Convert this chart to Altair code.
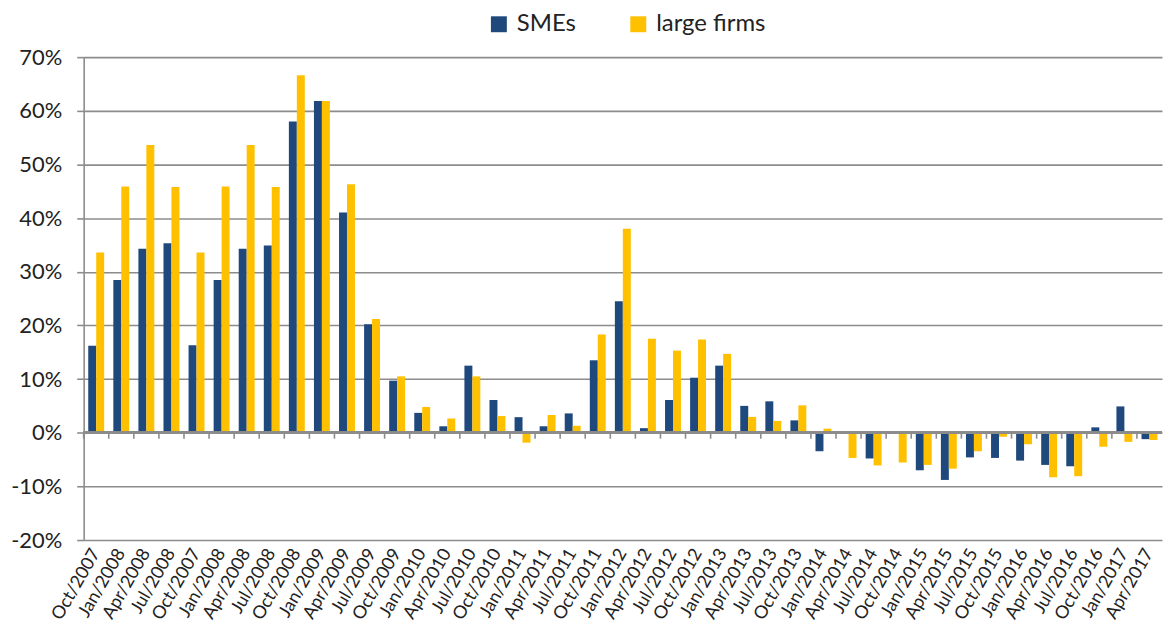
import json
import altair as alt
import pandas as pd

labels = ["Oct/2007", "Jan/2008", "Apr/2008", "Jul/2008", "Oct/2007", "Jan/2008", "Apr/2008", "Jul/2008",
          "Oct/2008", "Jan/2009", "Apr/2009", "Jul/2009", "Oct/2009", "Jan/2010", "Apr/2010", "Jul/2010",
          "Oct/2010", "Jan/2011", "Apr/2011", "Jul/2011", "Oct/2011", "Jan/2012", "Apr/2012", "Jul/2012",
          "Oct/2012", "Jan/2013", "Apr/2013", "Jul/2013", "Oct/2013", "Jan/2014", "Apr/2014", "Jul/2014",
          "Oct/2014", "Jan/2015", "Apr/2015", "Jul/2015", "Oct/2015", "Jan/2016", "Apr/2016", "Jul/2016",
          "Oct/2016", "Jan/2017", "Apr/2017"]

smes = [16.2, 28.45, 34.3, 35.3, 16.3, 28.45, 34.3, 34.9, 58.0, 61.8, 41.05, 20.2, 9.7, 3.7, 1.2, 12.5,
        6.1, 2.9, 1.2, 3.6, 13.5, 24.5, 0.85, 6.1, 10.25, 12.5, 5.0, 5.85, 2.3, -3.45, 0.2, -4.8,
        0.2, -7.0, -8.8, -4.6, -4.7, -5.2, -6.0, -6.25, 1.0, 4.9, -1.2]

large = [33.6, 45.9, 53.6, 45.8, 33.6, 45.9, 53.6, 45.8, 66.6, 61.8, 46.3, 21.2, 10.5, 4.8, 2.65, 10.5,
         3.1, -1.85, 3.3, 1.3, 18.3, 38.0, 17.5, 15.3, 17.35, 14.7, 2.95, 2.2, 5.1, 0.75, -4.7, -6.1,
         -5.55, -6.0, -6.7, -3.45, -0.75, -2.15, -8.3, -8.1, -2.6, -1.7, -1.35]

series = ["SMEs", "large firms"]
colors = ["#1F497D", "#FFC000"]

rows = []
for i, lab in enumerate(labels):
    rows.append({"idx": i, "series": series[0], "value": smes[i]})
    rows.append({"idx": i, "series": series[1], "value": large[i]})
df = pd.DataFrame(rows)
cats = pd.DataFrame({"idx": list(range(len(labels)))})

FONT = "Lato"
GRAY = "#8c8c8c"
H = 485
W = 1083
ymin, ymax = -20, 70

label_expr = json.dumps(labels) + "[datum.value]"

xscale = alt.Scale(paddingInner=0, paddingOuter=0)
yscale = alt.Scale(domain=[ymin, ymax], nice=False, zero=False)
xaxis = alt.Axis(labelExpr=label_expr, labelAngle=-60, labelFontSize=18, labelFont=FONT,
                 labelColor="#222222", ticks=False, domain=False, grid=False,
                 labelPadding=10, labelOverlap=False)

bars = alt.Chart(df).mark_bar().encode(
    x=alt.X("idx:O", scale=xscale, title=None, axis=xaxis),
    xOffset=alt.XOffset("series:N", scale=alt.Scale(domain=series, paddingOuter=0.575, paddingInner=0),
                        sort=series),
    y=alt.Y("value:Q", scale=yscale, title=None,
            axis=alt.Axis(values=list(range(ymin, ymax + 1, 10)), labelExpr="datum.value + '%'",
                          labelFontSize=22, labelFont=FONT, labelColor="#222222",
                          grid=True, gridColor=GRAY, gridWidth=1.6, gridOpacity=1,
                          domainColor=GRAY, domainWidth=1.6, tickColor=GRAY, tickWidth=1.6,
                          tickSize=7, labelPadding=15)),
    color=alt.Color("series:N", scale=alt.Scale(domain=series, range=colors), sort=series,
                    legend=alt.Legend(title=None, orient="none", direction="horizontal",
                                      legendX=405, legendY=-45, symbolType="square", symbolSize=256,
                                      symbolStrokeWidth=0, labelFontSize=24, labelFont=FONT,
                                      labelColor="#222222", columnPadding=50, labelOffset=6)),
)

zero_line = alt.Chart(cats).mark_rule(color=GRAY, strokeWidth=2).encode(
    y=alt.datum(0),
)

zero_ticks = alt.Chart(cats).mark_tick(orient="vertical", color=GRAY, size=6, thickness=1.6,
                                       yOffset=3, opacity=1).encode(
    x=alt.X("idx:O", bandPosition=0, scale=xscale, title=None, axis=xaxis),
    y=alt.datum(0),
)

chart = alt.layer(bars, zero_line, zero_ticks).properties(
    width=W, height=H, padding={"left": 2, "top": 3, "right": 0, "bottom": 0}
).configure_view(stroke=None)

chart.save("out.html", embed_options={"renderer": "svg", "actions": False})
